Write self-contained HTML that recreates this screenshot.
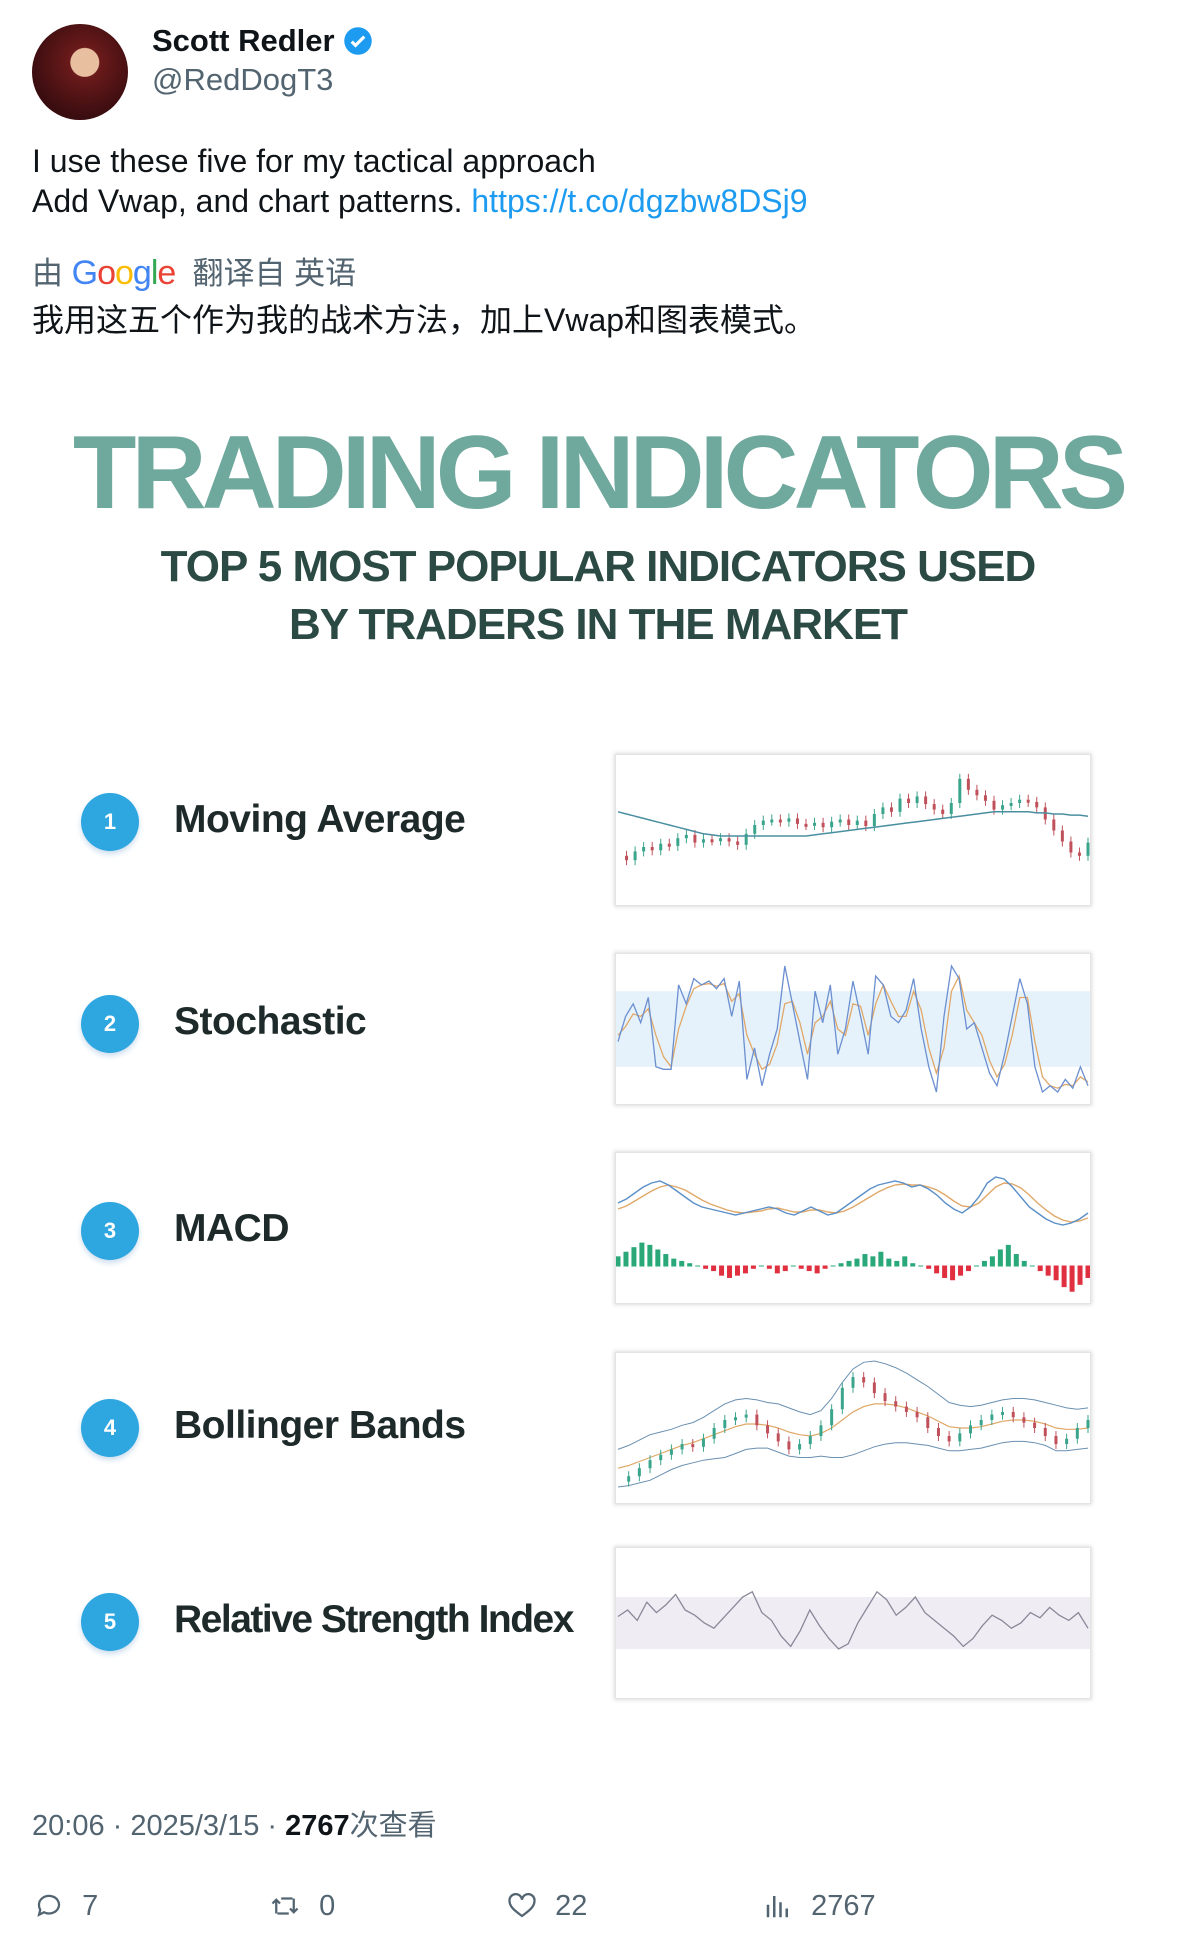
<!DOCTYPE html>
<html><head><meta charset="utf-8">
<style>
body{margin:0;width:1196px;height:1954px;background:#fff;position:relative;overflow:hidden;font-family:"Liberation Sans","Noto Sans CJK SC",sans-serif;color:#0f1419}
.a{position:absolute;white-space:nowrap}
.panel{position:absolute;left:615px;width:474px;height:150px;background:#fff;box-shadow:0 0 4px 1px #ddd;border:1px solid #e4e4e4}
.panel svg{display:block}
.circ{position:absolute;left:81px;width:58px;height:58px;border-radius:50%;background:#2ea6df;color:#fff;font-weight:bold;font-size:22px;text-align:center;line-height:58px;box-shadow:0 3px 6px #cde}
.lbl{position:absolute;left:174px;font-size:39px;font-weight:bold;color:#1e2a2a;font-family:"Liberation Sans",sans-serif;letter-spacing:-0.5px}
</style></head><body>
<div class="a" style="left:32px;top:24px;width:96px;height:96px;border-radius:50%;background:radial-gradient(circle at 55% 40%,#e8c0a0 0 18%,#6b1a1a 19%,#3a0d10 70%);"></div>
<div class="a" style="left:152px;top:23px;font-size:31px;font-weight:bold">Scott Redler <svg width="30" height="30" viewBox="0 0 24 24" style="vertical-align:-5px"><circle cx="12" cy="12" r="11" fill="#1d9bf0"/><path d="M7 12.5l3 3 7-7" stroke="#fff" stroke-width="2.5" fill="none"/></svg></div>
<div class="a" style="left:152px;top:62px;font-size:31px;color:#536471">@RedDogT3</div>
<div class="a" style="left:32px;top:141px;font-size:32px;line-height:40px">I use these five for my tactical approach<br>Add Vwap, and chart patterns. <span style="color:#1d9bf0">https://t.co/dgzbw8DSj9</span></div>
<div class="a" style="left:32px;top:248px;font-size:31px;color:#536471">由 <b style="font-weight:normal;letter-spacing:-1px;font-size:34px"><span style="color:#4285f4">G</span><span style="color:#ea4335">o</span><span style="color:#fbbc05">o</span><span style="color:#4285f4">g</span><span style="color:#34a853">l</span><span style="color:#ea4335">e</span></b>&nbsp; 翻译自 英语</div>
<div class="a" style="left:32px;top:295px;font-size:32px">我用这五个作为我的战术方法，加上Vwap和图表模式。</div>
<div class="a" style="left:0;width:1196px;text-align:center;top:414px;font-size:104px;font-weight:bold;color:#6fa89c;letter-spacing:-5px">TRADING INDICATORS</div>
<div class="a" style="left:0;width:1196px;text-align:center;top:538px;font-size:44px;line-height:58px;font-weight:bold;color:#2c4a44;letter-spacing:-1px">TOP 5 MOST POPULAR INDICATORS USED<br>BY TRADERS IN THE MARKET</div>

<div class="circ" style="top:793px">1</div>
<div class="lbl" style="top:798px">Moving Average</div>
<div class="circ" style="top:995px">2</div>
<div class="lbl" style="top:1000px">Stochastic</div>
<div class="circ" style="top:1202px">3</div>
<div class="lbl" style="top:1207px">MACD</div>
<div class="circ" style="top:1399px">4</div>
<div class="lbl" style="top:1404px">Bollinger Bands</div>
<div class="circ" style="top:1593px">5</div>
<div class="lbl" style="top:1598px;letter-spacing:-1.5px">Relative Strength Index</div>

<div class="panel" style="top:754px"><svg id="s1" width="474" height="150"></svg></div>
<div class="panel" style="top:953px"><svg id="s2" width="474" height="150"></svg></div>
<div class="panel" style="top:1152px"><svg id="s3" width="474" height="150"></svg></div>
<div class="panel" style="top:1352px"><svg id="s4" width="474" height="150"></svg></div>
<div class="panel" style="top:1547px"><svg id="s5" width="474" height="150"></svg></div>

<div class="a" style="left:32px;top:1802px;font-size:29px;color:#536471">20:06 · 2025/3/15 · <b style="color:#0f1419">2767</b>次查看</div>
<div class="a" style="left:32px;top:1890px;font-size:29px;color:#536471"><svg width="34" height="30" viewBox="0 0 24 24" style="vertical-align:-6px"><path d="M4 11a8 7 0 1 1 4 6l-4 2 1-4a7 7 0 0 1-1-4z" fill="none" stroke="#536471" stroke-width="1.8"/></svg>&nbsp; 7</div>
<div class="a" style="left:267px;top:1890px;font-size:29px;color:#536471"><svg width="36" height="30" viewBox="0 0 24 24" style="vertical-align:-6px"><path d="M5 18V7M2 10l3-3 3 3M6 18h9M19 6v11M16 14l3 3 3-3M18 6H9" fill="none" stroke="#536471" stroke-width="1.8"/></svg>&nbsp; 0</div>
<div class="a" style="left:505px;top:1890px;font-size:29px;color:#536471"><svg width="34" height="30" viewBox="0 0 24 24" style="vertical-align:-6px"><path d="M12 20C5 15 2 12 2 8a5 5 0 0 1 10-1 5 5 0 0 1 10 1c0 4-3 7-10 12z" fill="none" stroke="#536471" stroke-width="1.8"/></svg>&nbsp; 22</div>
<div class="a" style="left:761px;top:1890px;font-size:29px;color:#536471"><svg width="34" height="30" viewBox="0 0 24 24" style="vertical-align:-6px"><path d="M4 21V11M9 21V4M14 21V9M19 21V14" stroke="#536471" stroke-width="2"/></svg>&nbsp; 2767</div>

<script>
const maPrice=[22,18,26,30,27,33,31,38,41,34,37,36,38,35,32,42,50,54,55,53,56,51,50,52,48,53,55,50,54,49,60,66,62,74,70,76,69,64,60,70,92,82,77,72,64,68,70,73,71,66,55,45,35,25,22,34];
const maLine=[62,60,58,56,54,52,50,48,46,44,42,41,40,40,40,40,40,40,40,40,40,40,40,41,42,43,44,45,46,47,48,49,50,51,52,53,54,55,56,57,58,59,60,61,62,62,62,62,62,61,61,60,60,59,59,58];
const stK=[40,60,70,55,75,20,18,18,85,70,90,85,88,82,90,60,88,10,35,5,30,50,100,70,40,10,80,55,85,30,50,88,60,30,92,85,60,55,65,90,50,20,0,60,100,90,50,55,35,15,5,30,60,90,70,20,0,5,0,10,3,20,5];
const stD=[45,52,62,60,66,45,28,20,50,68,82,85,86,84,86,72,78,45,30,18,22,38,70,72,55,30,55,60,72,50,45,70,68,45,70,85,72,60,60,80,65,35,15,35,80,92,65,55,45,25,12,22,45,75,75,40,12,5,3,6,5,12,8];
const mcH=[4,6,8,10,9,7,5,3,2,1,0,-1,-2,-4,-5,-4,-3,-1,0,-1,-3,-2,0,-1,-2,-3,-1,0,1,2,3,5,4,6,3,2,4,1,0,-1,-3,-5,-6,-4,-2,0,2,4,7,9,5,2,0,-2,-4,-6,-9,-11,-8,-5];
const mcM=[30,34,40,46,50,52,48,42,36,30,26,24,22,20,18,20,22,24,26,24,20,18,22,26,22,18,20,26,32,38,44,48,50,52,50,46,48,44,38,30,24,20,26,36,50,56,54,46,36,26,20,14,10,8,10,14,20];
const mcS=[24,27,32,37,42,46,48,46,43,38,33,29,26,23,21,20,21,22,24,25,23,21,21,23,23,21,20,22,26,31,36,41,45,48,49,48,48,46,43,38,32,27,26,30,38,46,50,49,45,38,30,23,17,13,11,12,15];
const bbP=[10,14,20,26,30,34,38,36,42,50,56,58,60,52,46,40,34,38,44,52,64,80,88,84,76,70,66,62,58,50,44,40,46,52,56,60,62,58,54,50,44,38,42,50,56];
const bbMid=[20,22,25,28,31,34,37,39,42,45,48,51,53,53,52,50,47,45,44,46,50,56,62,66,68,68,67,65,62,59,55,51,50,50,51,53,55,56,56,55,53,50,49,49,50];
const bbW=[14,15,16,17,16,15,15,15,16,18,20,20,19,18,17,18,18,17,16,17,22,28,32,33,32,30,28,26,24,22,20,18,17,16,16,16,16,16,16,16,16,17,16,15,15];
const rsi=[55,60,52,66,58,64,72,60,56,50,46,54,62,70,74,58,52,40,32,44,60,48,38,30,34,50,62,74,68,56,62,70,58,52,46,40,32,38,48,56,52,46,50,58,54,62,56,52,58,46];
</script>
<script>
const W=474,H=150,NS='http://www.w3.org/2000/svg';
function el(svg,tag,attrs,name){const e=document.createElementNS(NS,tag);for(const k in attrs)e.setAttribute(k,attrs[k]);


svg.appendChild(e);return e;}
function xs(n,i){return 2+i*(W-4)/(n-1);}
function ys(v,lo,hi,pt,pb){return pt+(1-(v-lo)/(hi-lo))*(H-pt-pb);}
function poly(svg,arr,lo,hi,pt,pb,col,sw,name){const d=arr.map((v,i)=>xs(arr.length,i).toFixed(1)+','+ys(v,lo,hi,pt,pb).toFixed(1)).join(' ');el(svg,'polyline',{points:d,fill:'none',stroke:col,'stroke-width':sw},name);}
function candles(svg,arr,lo,hi,pt,pb,name){for(let i=1;i<arr.length;i++){const x=xs(arr.length,i),y0=ys(arr[i-1],lo,hi,pt,pb),y1=ys(arr[i],lo,hi,pt,pb);const c=arr[i]>=arr[i-1]?'#3aa58c':'#c0505a';
el(svg,'line',{x1:x,x2:x,y1:Math.min(y0,y1)-5,y2:Math.max(y0,y1)+5,stroke:c,'stroke-width':1},name+'-wick');
el(svg,'rect',{x:x-1.5,y:Math.min(y0,y1),width:3,height:Math.max(3,Math.abs(y1-y0)),fill:c},name);}}
const s1=document.getElementById('s1');
candles(s1,maPrice,0,100,15,25,'ma-candle');poly(s1,maLine,0,100,15,25,'#4a8fa0',1.5,'ma-line');
const s2=document.getElementById('s2');
el(s2,'rect',{x:0,y:ys(80,0,100,12,12),width:W,height:ys(20,0,100,12,12)-ys(80,0,100,12,12),fill:'#e6f2fb'},'stoch-band');
poly(s2,stD,0,100,12,12,'#e0a868',1.3,'stoch-d-line');poly(s2,stK,0,100,12,12,'#6b8fd0',1.3,'stoch-k-line');
const s3=document.getElementById('s3');const zy=ys(0,-12,12,85,10);
mcH.forEach((v,i)=>{const x=xs(mcH.length,i),y=ys(v,-12,12,85,10);el(s3,'rect',{x:x-2.5,y:Math.min(y,zy),width:5,height:Math.abs(y-zy)+1,fill:v>=0?'#2aa87a':'#e03040'},'macd-bar');});
poly(s3,mcS,0,60,20,70,'#e0a868',1.4,'macd-signal-line');poly(s3,mcM,0,60,20,70,'#5b8fc8',1.4,'macd-line');
const s4=document.getElementById('s4');
poly(s4,bbMid.map((m,i)=>m+bbW[i]),0,100,8,8,'#6a8fb0',1,'bb-upper');poly(s4,bbMid.map((m,i)=>m-bbW[i]),0,100,8,8,'#6a8fb0',1,'bb-lower');
poly(s4,bbMid,0,100,8,8,'#e0a868',1.2,'bb-middle');candles(s4,bbP,0,100,8,8,'bb-candle');
const s5=document.getElementById('s5');
el(s5,'rect',{x:0,y:ys(70,0,100,10,10),width:W,height:ys(30,0,100,10,10)-ys(70,0,100,10,10),fill:'#efecf4'},'rsi-band');
poly(s5,rsi,0,100,10,10,'#8a8898',1.3,'rsi-line');
</script>
</body></html>
